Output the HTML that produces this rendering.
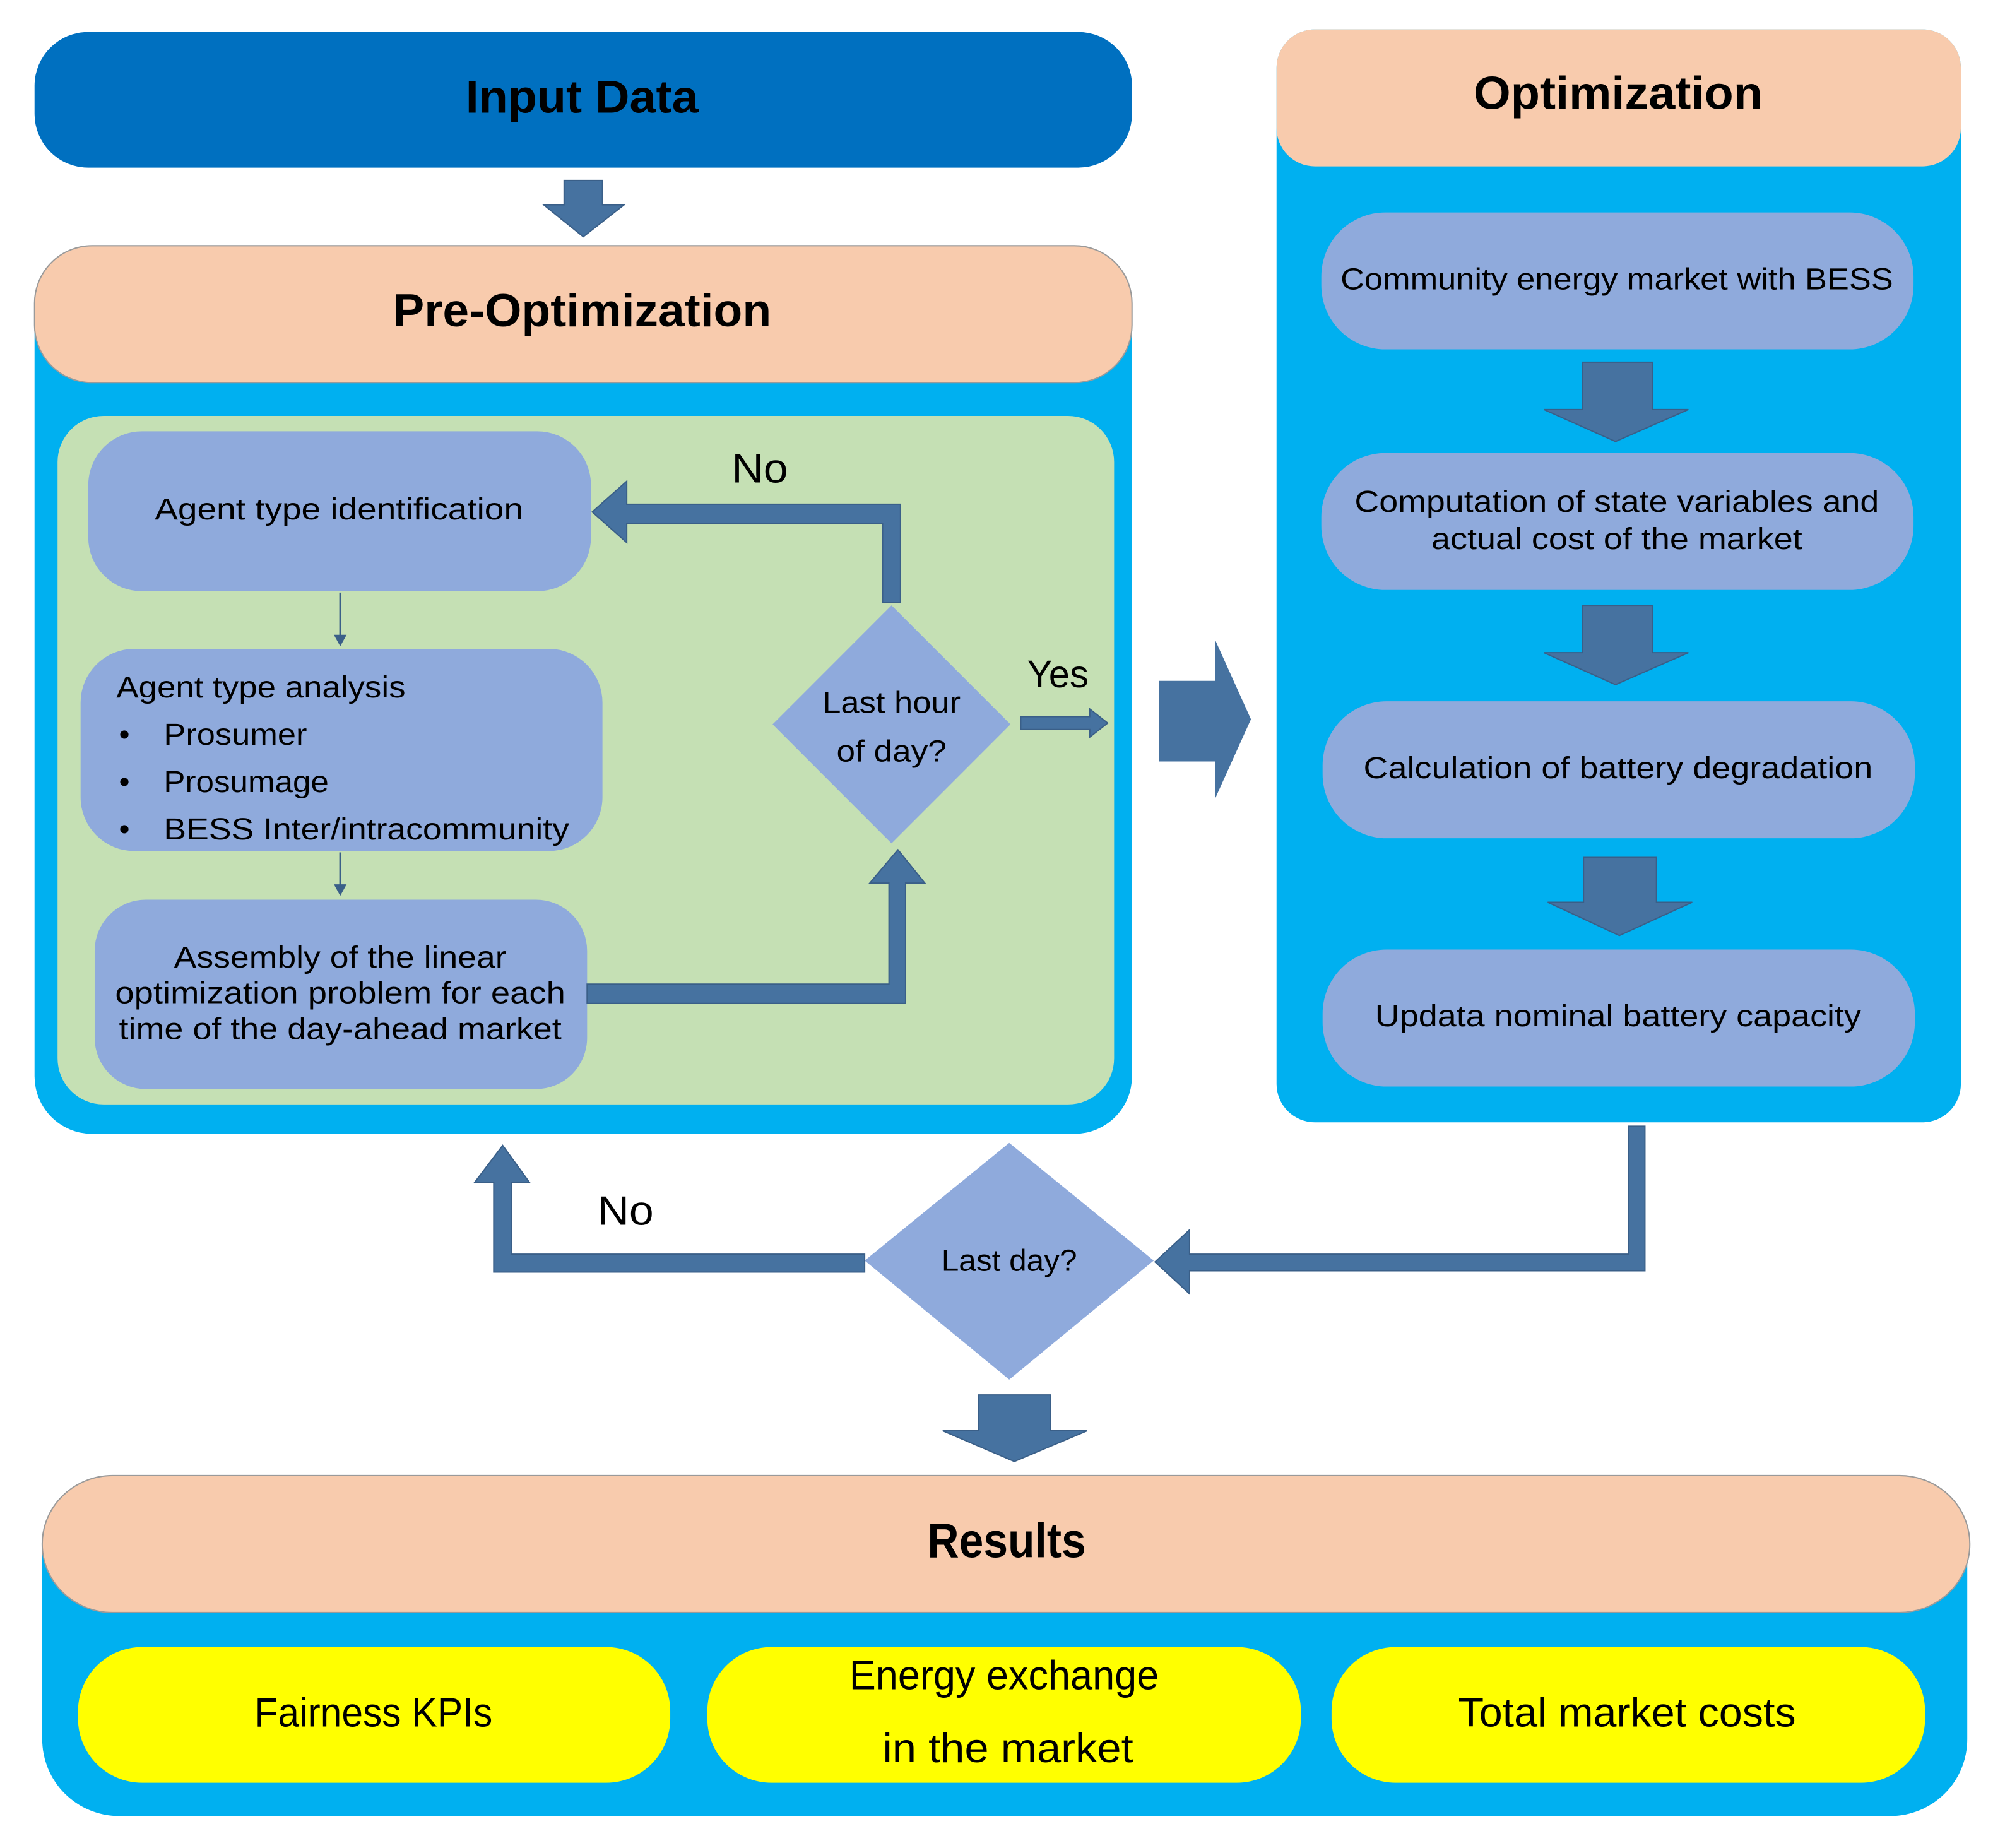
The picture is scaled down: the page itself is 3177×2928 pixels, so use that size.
<!DOCTYPE html>
<html><head><meta charset="utf-8"><style>html,body{margin:0;padding:0;background:#fff}svg{display:block}</style></head><body>
<svg width="3177" height="2928" viewBox="0 0 1567.5 1444" preserveAspectRatio="none" xmlns="http://www.w3.org/2000/svg" font-family="Liberation Sans, sans-serif">
<g fill="#000" text-anchor="middle">
<rect x="27" y="25" width="858" height="106" rx="42" fill="#0070C0"/>
<text x="455" y="88" font-size="36" font-weight="bold" textLength="182" lengthAdjust="spacingAndGlyphs">Input Data</text>
<polygon points="441,141 471,141 471,160 488,160 456,185 425,160 441,160" fill="#4672A0" stroke="#3a5f88"/>
<rect x="27" y="192" width="858" height="694" rx="45" fill="#00B0F0"/>
<rect x="27" y="192" width="858" height="107" rx="45" fill="#F8CBAD" stroke="#9a9a9a"/>
<text x="455" y="255" font-size="36" font-weight="bold" textLength="296" lengthAdjust="spacingAndGlyphs">Pre-Optimization</text>
<rect x="45" y="325" width="826" height="538" rx="36" fill="#C5E0B4"/>
<rect x="69" y="337" width="393" height="125" rx="42" fill="#8FAADC"/>
<text x="265" y="406" font-size="24" textLength="288" lengthAdjust="spacingAndGlyphs">Agent type identification</text>
<line x1="266" y1="463" x2="266" y2="503" stroke="#3a5f88" stroke-width="1.5"/><polygon points="261,496 271,496 266,505" fill="#3a5f88"/>
<rect x="63" y="507" width="408" height="158" rx="42" fill="#8FAADC"/>
<g text-anchor="start" font-size="24">
<text x="91" y="545" textLength="226" lengthAdjust="spacingAndGlyphs">Agent type analysis</text>
<text x="93" y="582">•</text><text x="128" y="582" textLength="112" lengthAdjust="spacingAndGlyphs">Prosumer</text>
<text x="93" y="619">•</text><text x="128" y="619" textLength="129" lengthAdjust="spacingAndGlyphs">Prosumage</text>
<text x="93" y="656">•</text><text x="128" y="656" textLength="317" lengthAdjust="spacingAndGlyphs">BESS Inter/intracommunity</text>
</g>
<line x1="266" y1="666" x2="266" y2="698" stroke="#3a5f88" stroke-width="1.5"/><polygon points="261,691 271,691 266,700" fill="#3a5f88"/>
<rect x="74" y="703" width="385" height="148" rx="40" fill="#8FAADC"/>
<g font-size="24">
<text x="266" y="756" textLength="260" lengthAdjust="spacingAndGlyphs">Assembly of the linear</text>
<text x="266" y="784" textLength="352" lengthAdjust="spacingAndGlyphs">optimization problem for each</text>
<text x="266" y="812" textLength="346" lengthAdjust="spacingAndGlyphs">time of the day-ahead market</text>
</g>
<polygon points="459,769 695,769 695,690 680,690 702,664 723,690 708,690 708,784 459,784" fill="#4672A0" stroke="#3a5f88"/>
<polygon points="690,471 690,409 490,409 490,424 463,400 490,376 490,394 704,394 704,471" fill="#4672A0" stroke="#3a5f88"/>
<text x="594" y="377" font-size="32" textLength="44" lengthAdjust="spacingAndGlyphs">No</text>
<polygon points="697,473 790,566 697,659 604,566" fill="#8FAADC"/>
<text x="697" y="557" font-size="24" textLength="108" lengthAdjust="spacingAndGlyphs">Last hour</text>
<text x="697" y="595" font-size="24" textLength="86" lengthAdjust="spacingAndGlyphs">of day?</text>
<polygon points="798,560 852,560 852,554 866,565 852,576 852,570 798,570" fill="#4672A0" stroke="#3a5f88"/>
<text x="827" y="537" font-size="30" textLength="48" lengthAdjust="spacingAndGlyphs">Yes</text>
<polygon points="906,532 950,532 950,500 978,562 950,624 950,595 906,595" fill="#4672A0"/>
<rect x="998" y="23" width="535" height="854" rx="30" fill="#00B0F0"/>
<rect x="998" y="23" width="535" height="107" rx="30" fill="#F8CBAD"/>
<text x="1265" y="85" font-size="36" font-weight="bold" textLength="226" lengthAdjust="spacingAndGlyphs">Optimization</text>
<g font-size="24">
<rect x="1033" y="166" width="463" height="107" rx="50" fill="#8FAADC"/>
<text x="1264" y="226" textLength="432" lengthAdjust="spacingAndGlyphs">Community energy market with BESS</text>
<polygon points="1237,283 1292,283 1292,320 1320,320 1263,345 1207,320 1237,320" fill="#4672A0" stroke="#3a5f88"/>
<rect x="1033" y="354" width="463" height="107" rx="50" fill="#8FAADC"/>
<text x="1264" y="400" textLength="410" lengthAdjust="spacingAndGlyphs">Computation of state variables and</text>
<text x="1264" y="429" textLength="290" lengthAdjust="spacingAndGlyphs">actual cost of the market</text>
<polygon points="1237,473 1292,473 1292,510 1320,510 1263,535 1207,510 1237,510" fill="#4672A0" stroke="#3a5f88"/>
<rect x="1034" y="548" width="463" height="107" rx="50" fill="#8FAADC"/>
<text x="1265" y="608" textLength="398" lengthAdjust="spacingAndGlyphs">Calculation of battery degradation</text>
<polygon points="1238,670 1295,670 1295,705 1323,705 1266,731 1210,705 1238,705" fill="#4672A0" stroke="#3a5f88"/>
<rect x="1034" y="742" width="463" height="107" rx="50" fill="#8FAADC"/>
<text x="1265" y="802" textLength="380" lengthAdjust="spacingAndGlyphs">Updata nominal battery capacity</text>
</g>
<polygon points="1273,880 1286,880 1286,993 930,993 930,1011 903,986 930,961 930,980 1273,980" fill="#4672A0" stroke="#3a5f88"/>
<polygon points="789,893 902,985 789,1078 676,985" fill="#8FAADC"/>
<text x="789" y="993" font-size="24" textLength="106" lengthAdjust="spacingAndGlyphs">Last day?</text>
<polygon points="676,980 676,994 386,994 386,924 371,924 393,895 414,924 400,924 400,980" fill="#4672A0" stroke="#3a5f88"/>
<text x="489" y="957" font-size="32" textLength="44" lengthAdjust="spacingAndGlyphs">No</text>
<polygon points="765,1090 821,1090 821,1118 850,1118 793,1142 737,1118 765,1118" fill="#4672A0" stroke="#3a5f88"/>
<rect x="33" y="1153" width="1505" height="266" rx="60" fill="#00B0F0"/>
<rect x="33" y="1153" width="1507" height="107" rx="55" fill="#F8CBAD" stroke="#9a9a9a"/>
<text x="787" y="1217" font-size="38" font-weight="bold" textLength="124" lengthAdjust="spacingAndGlyphs">Results</text>
<g font-size="32">
<rect x="61" y="1287" width="463" height="106" rx="50" fill="#FFFF00"/>
<text x="292" y="1349" textLength="186" lengthAdjust="spacingAndGlyphs">Fairness KPIs</text>
<rect x="553" y="1287" width="464" height="106" rx="50" fill="#FFFF00"/>
<text x="785" y="1320" textLength="242" lengthAdjust="spacingAndGlyphs">Energy exchange</text>
<text x="788" y="1377" textLength="196" lengthAdjust="spacingAndGlyphs">in the market</text>
<rect x="1041" y="1287" width="464" height="106" rx="50" fill="#FFFF00"/>
<text x="1272" y="1349" textLength="264" lengthAdjust="spacingAndGlyphs">Total market costs</text>
</g>
</g>
</svg>
</body></html>
